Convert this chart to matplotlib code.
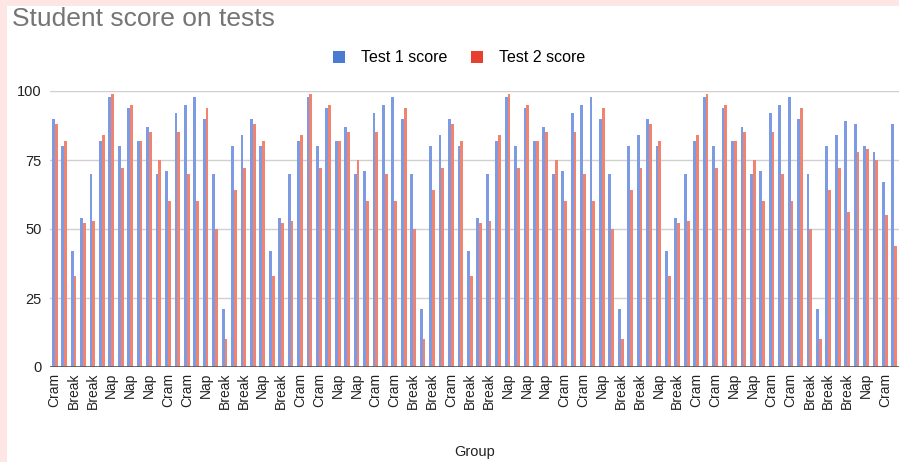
import matplotlib
matplotlib.use('Agg')
import matplotlib.pyplot as plt
from matplotlib.patches import Patch, Rectangle

plt.rcParams['font.family'] = ['Liberation Sans', 'DejaVu Sans']

# group of each student (90 rows)
groups = [
    'Cram', 'Nap', 'Break', 'Break', 'Break', 'Cram', 'Nap', 'Cram', 'Nap', 'Nap', 'Nap',
    'Nap', 'Cram', 'Cram', 'Cram', 'Cram', 'Nap', 'Break', 'Break', 'Break', 'Break',
    'Cram', 'Nap', 'Break', 'Break', 'Break', 'Cram', 'Nap', 'Cram', 'Nap', 'Nap', 'Nap',
    'Nap', 'Cram', 'Cram', 'Cram', 'Cram', 'Nap', 'Break', 'Break', 'Break', 'Break',
    'Cram', 'Nap', 'Break', 'Break', 'Break', 'Cram', 'Nap', 'Cram', 'Nap', 'Nap', 'Nap',
    'Nap', 'Cram', 'Cram', 'Cram', 'Cram', 'Nap', 'Break', 'Break', 'Break', 'Break',
    'Cram', 'Nap', 'Break', 'Break', 'Break', 'Cram', 'Nap', 'Cram', 'Nap', 'Nap', 'Nap',
    'Nap', 'Cram', 'Cram', 'Cram', 'Cram', 'Nap', 'Break', 'Break', 'Break', 'Break',
    'Break', 'Break', 'Nap', 'Nap', 'Cram', 'Cram',
]

test1 = [
    90, 80, 42, 54, 70, 82, 98, 80, 94, 82, 87, 70, 71, 92, 95, 98, 90, 70, 21, 80, 84,
    90, 80, 42, 54, 70, 82, 98, 80, 94, 82, 87, 70, 71, 92, 95, 98, 90, 70, 21, 80, 84,
    90, 80, 42, 54, 70, 82, 98, 80, 94, 82, 87, 70, 71, 92, 95, 98, 90, 70, 21, 80, 84,
    90, 80, 42, 54, 70, 82, 98, 80, 94, 82, 87, 70, 71, 92, 95, 98, 90, 70, 21, 80, 84,
    89, 88, 80, 78, 67, 88,
]

test2 = [
    88, 82, 33, 52, 53, 84, 99, 72, 95, 82, 85, 75, 60, 85, 70, 60, 94, 50, 10, 64, 72,
    88, 82, 33, 52, 53, 84, 99, 72, 95, 82, 85, 75, 60, 85, 70, 60, 94, 50, 10, 64, 72,
    88, 82, 33, 52, 53, 84, 99, 72, 95, 82, 85, 75, 60, 85, 70, 60, 94, 50, 10, 64, 72,
    88, 82, 33, 52, 53, 84, 99, 72, 95, 82, 85, 75, 60, 85, 70, 60, 94, 50, 10, 64, 72,
    56, 78, 79, 75, 55, 44,
]

yticks = [0, 25, 50, 75, 100]

fig = plt.figure(figsize=(8.99, 4.62), dpi=100, facecolor='#fde6e4')
fig.patches.append(Rectangle((7 / 899, 0), 1, 1 - 6 / 462, transform=fig.transFigure,
                             facecolor='white', edgecolor='none', zorder=-5))

ax = fig.add_axes([50 / 899, 1 - 367 / 462, 849 / 899, (367 - 91) / 462])
ax.set_facecolor('none')

x = list(range(len(groups)))
w = 0.3
ax.bar([i - w / 2 for i in x], test1, width=w, color='#7d9be2', zorder=3)
ax.bar([i + w / 2 for i in x], test2, width=w, color='#f08470', zorder=3)

ax.set_xlim(-0.5, len(groups) - 0.5)
ax.set_ylim(0, 100)
ax.set_yticks(yticks)
ax.set_yticklabels([str(v) for v in yticks])
ax.tick_params(axis='y', length=0, pad=6, labelsize=10.5, labelcolor='#222222')
ax.grid(axis='y', color='#d0d0d0', linewidth=1, zorder=0)
ax.axhline(0, color='#555555', linewidth=1.2, zorder=4)

ax.set_xticks(x[::2])
ax.set_xticklabels(groups[::2], rotation=90, fontsize=10, color='#222222')
ax.tick_params(axis='x', length=0, pad=4)

for s in ax.spines.values():
    s.set_visible(False)

ax.set_xlabel('Group', fontsize=10.5, color='#222222', labelpad=26)

fig.text(12 / 899, 1 - 19 / 462, 'Student score on tests', fontsize=19,
         color='#757575', va='center', ha='left')

handles = [Patch(facecolor='#4a7bd0', label='Test 1 score'),
           Patch(facecolor='#e8402f', label='Test 2 score')]
fig.legend(handles=handles, loc='center', bbox_to_anchor=(459 / 899, 1 - 58 / 462),
           ncol=2, frameon=False, fontsize=11.5, handlelength=0.75, handleheight=0.75,
           columnspacing=1.5, handletextpad=1.0)

fig.savefig('out.png', dpi=100, facecolor=fig.get_facecolor())
